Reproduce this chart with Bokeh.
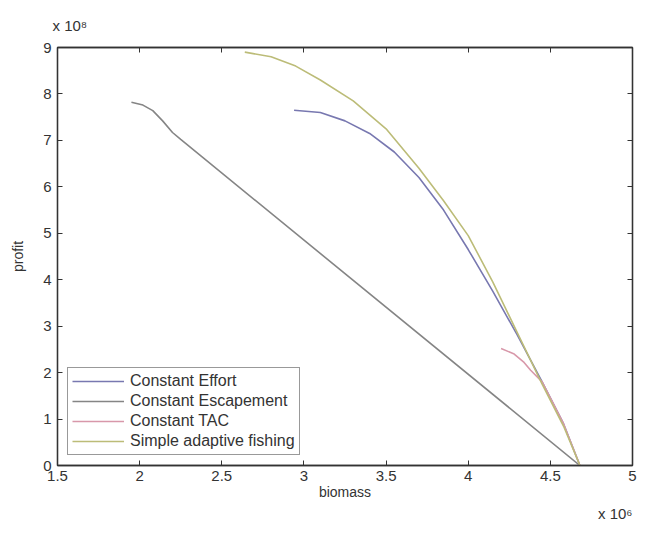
from bokeh.plotting import figure
from bokeh.models import LinearAxis, Legend, LegendItem, FixedTicker, Range1d, Title
from bokeh.embed import file_html
from bokeh.resources import INLINE

# Data (biomass in units of 10^6, profit in units of 10^8)
effort_x = [2.94, 3.10, 3.25, 3.40, 3.55, 3.70, 3.85, 4.00, 4.15, 4.30, 4.45, 4.58, 4.68]
effort_y = [7.65, 7.60, 7.42, 7.15, 6.75, 6.20, 5.50, 4.65, 3.75, 2.80, 1.80, 0.90, 0.00]

escape_x = [1.95, 2.02, 2.08, 2.14, 2.20, 2.25, 4.68]
escape_y = [7.82, 7.76, 7.64, 7.42, 7.17, 7.02, 0.00]

tac_x = [4.20, 4.28, 4.34, 4.38, 4.45, 4.58, 4.68]
tac_y = [2.52, 2.40, 2.22, 2.05, 1.80, 0.90, 0.00]

adapt_x = [2.64, 2.80, 2.95, 3.10, 3.30, 3.50, 3.70, 3.85, 4.00, 4.15, 4.30, 4.45, 4.58, 4.68]
adapt_y = [8.90, 8.80, 8.60, 8.30, 7.85, 7.25, 6.40, 5.70, 4.95, 3.95, 2.85, 1.75, 0.85, 0.00]

x_ticks = [1.5, 2, 2.5, 3, 3.5, 4, 4.5, 5]
x_tick_labels = ["1.5", "2", "2.5", "3", "3.5", "4", "4.5", "5"]
y_ticks = [0, 1, 2, 3, 4, 5, 6, 7, 8, 9]
y_tick_labels = [str(v) for v in y_ticks]

FONT = "Liberation Sans"
TXT = "#333333"

p = figure(width=640, height=521, output_backend="svg", toolbar_location=None,
           x_range=Range1d(1.5, 5), y_range=Range1d(0, 9),
           min_border_left=57, min_border_right=8, min_border_top=44, min_border_bottom=0)
p.xgrid.visible = False
p.ygrid.visible = False
p.outline_line_color = TXT
p.outline_line_width = 1.3

r_eff = p.line(effort_x, effort_y, line_color="#7878b0", line_width=1.6)
r_esc = p.line(escape_x, escape_y, line_color="#858585", line_width=1.6)
r_tac = p.line(tac_x, tac_y, line_color="#d898aa", line_width=1.6)
r_ada = p.line(adapt_x, adapt_y, line_color="#bcbc78", line_width=1.6)

def style_axis(ax):
    ax.major_tick_in = 5
    ax.major_tick_out = 0
    ax.minor_tick_in = 0
    ax.minor_tick_out = 0
    ax.axis_line_color = TXT
    ax.axis_line_width = 1.3
    ax.major_tick_line_color = TXT
    ax.major_label_text_font = FONT
    ax.major_label_text_font_size = "15px"
    ax.major_label_text_color = TXT
    ax.axis_label_text_font = FONT
    ax.axis_label_text_font_size = "14px"
    ax.axis_label_text_font_style = "normal"
    ax.axis_label_text_color = TXT

xa = p.xaxis[0]
xa.ticker = FixedTicker(ticks=x_ticks)
xa.major_label_overrides = {t: l for t, l in zip(x_ticks, x_tick_labels)}
xa.axis_label = "biomass"
xa.axis_label_standoff = 0
xa.major_label_standoff = 5
style_axis(xa)

ya = p.yaxis[0]
ya.ticker = FixedTicker(ticks=y_ticks)
ya.major_label_overrides = {t: l for t, l in zip(y_ticks, y_tick_labels)}
ya.axis_label = "profit"
ya.axis_label_standoff = 14
ya.major_label_standoff = 6
style_axis(ya)

top = LinearAxis(ticker=FixedTicker(ticks=x_ticks))
style_axis(top)
top.major_label_overrides = {t: "" for t in x_ticks}
top.major_label_standoff = 0
p.add_layout(top, "above")
right = LinearAxis(ticker=FixedTicker(ticks=y_ticks))
style_axis(right)
right.major_label_overrides = {t: "" for t in y_ticks}
right.major_label_standoff = 0
p.add_layout(right, "right")

legend = Legend(items=[
    LegendItem(label="Constant Effort", renderers=[r_eff]),
    LegendItem(label="Constant Escapement", renderers=[r_esc]),
    LegendItem(label="Constant TAC", renderers=[r_tac]),
    LegendItem(label="Simple adaptive fishing", renderers=[r_ada]),
], location="bottom_left")
legend.label_text_font = FONT
legend.label_text_font_size = "16px"
legend.label_text_color = TXT
legend.border_line_color = TXT
legend.border_line_width = 1.2
legend.background_fill_alpha = 1
legend.glyph_width = 52
legend.glyph_height = 18
legend.label_height = 18
legend.spacing = 2
legend.padding = 4
legend.margin = 10
legend.label_standoff = 6
p.add_layout(legend, "center")

# power-of-ten multipliers
top_exp = Title(text="x 10\u2078", align="left", offset=-5, text_font=FONT,
                text_font_size="15px", text_font_style="normal", text_color=TXT, standoff=28)
p.add_layout(top_exp, "above")
bot_exp = Title(text="x 10\u2076", align="right", offset=0, text_font=FONT,
                text_font_size="15px", text_font_style="normal", text_color=TXT, standoff=0)
p.add_layout(bot_exp, "below")

open("out.html", "w").write(file_html(p, INLINE))
